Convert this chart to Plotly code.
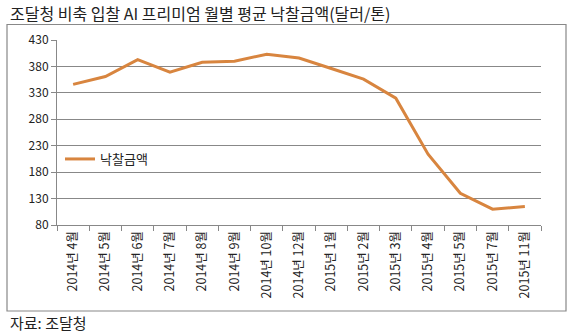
import plotly.graph_objects as go

categories = ["2014년 4월", "2014년 5월", "2014년 6월", "2014년 7월", "2014년 8월",
              "2014년 9월", "2014년 10월", "2014년 12월", "2015년 1월", "2015년 2월",
              "2015년 3월", "2015년 4월", "2015년 5월", "2015년 7월", "2015년 11월"]
values = [346, 361, 393, 369, 388, 390, 403, 396, 376, 356, 320, 214, 140, 110, 115]
series_name = "낙찰금액"
y_ticks = [80, 130, 180, 230, 280, 330, 380, 430]

FONT = "Noto Sans CJK KR, Malgun Gothic, sans-serif"

fig = go.Figure()
fig.add_trace(go.Scatter(x=categories, y=values, mode="lines", name=series_name,
                         line=dict(color="#D8853F", width=3)))

L, R, T, B = 57, 541, 40, 225
W, H = R - L, B - T

def px(x):
    return (x - L) / W

def py(y):
    return (B - y) / H

fig.update_layout(
    width=573, height=333,
    margin=dict(l=L, r=573 - R, t=T, b=333 - B),
    paper_bgcolor="white", plot_bgcolor="white",
    font=dict(family=FONT, size=11, color="#222"),
    showlegend=True,
    legend=dict(x=px(60), y=py(159), xanchor="left", yanchor="middle",
                bgcolor="rgba(0,0,0,0)", font=dict(size=13, color="#222"),
                itemwidth=30),
    xaxis=dict(type="category", tickangle=-90, tickson="boundaries",
               ticks="outside", ticklen=5, tickcolor="#888",
               showline=True, linecolor="#888", linewidth=1,
               showgrid=False, tickfont=dict(size=12.5, color="#222"),
               range=[-0.5, len(categories) - 0.5]),
    yaxis=dict(range=[80, 430], tickvals=y_ticks, ticks="outside", ticklen=5,
               tickcolor="#888", showline=True, linecolor="#888", linewidth=1,
               showgrid=True, gridcolor="#888", gridwidth=1,
               tickfont=dict(size=12, color="#222"), zeroline=False),
    shapes=[dict(type="rect", xref="paper", yref="paper",
                 x0=px(7), x1=px(566), y0=py(311), y1=py(24.5),
                 line=dict(color="#888", width=1.2), fillcolor="rgba(0,0,0,0)",
                 layer="below")],
    annotations=[
        dict(text="조달청 비축 입찰 AI 프리미엄 월별 평균 낙찰금액(달러/톤)", xref="paper", yref="paper",
             x=px(8), y=py(13), xanchor="left", yanchor="middle", showarrow=False,
             font=dict(size=16, color="#222")),
        dict(text="자료: 조달청", xref="paper", yref="paper",
             x=px(8), y=py(322), xanchor="left", yanchor="middle", showarrow=False,
             font=dict(size=15, color="#222")),
    ],
)

fig.write_html("out.html")
